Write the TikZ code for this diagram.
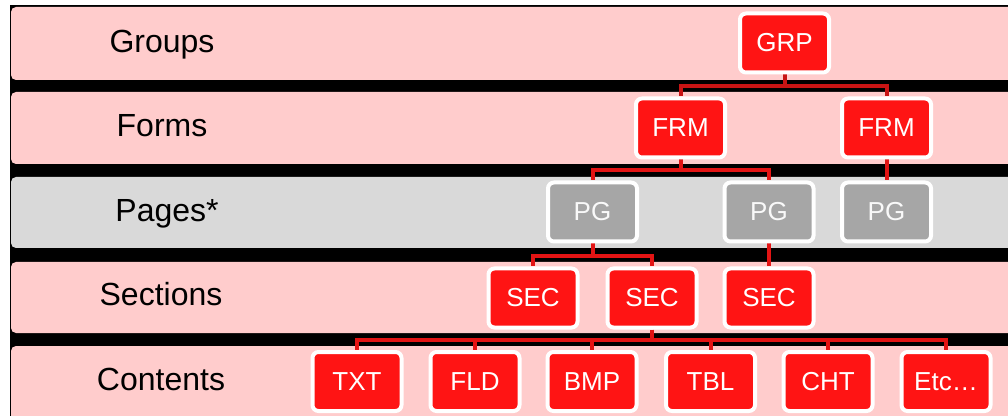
\documentclass[tikz,border=0pt]{standalone}
\usepackage{fontspec}
\setmainfont{Liberation Sans}
\definecolor{bandpink}{HTML}{FFCCCC}
\definecolor{bandgray}{HTML}{D9D9D9}
\definecolor{boxred}{HTML}{FF1414}
\definecolor{boxgray}{HTML}{A6A6A6}
\definecolor{linkred}{HTML}{E31414}
\definecolor{linkdark}{HTML}{C81414}
\pgfdeclarelayer{back}
\pgfdeclarelayer{mid}
\pgfsetlayers{back,mid,main}
\tikzset{
  band/.style={rounded corners=5pt},
  rowlabel/.style={font=\fontsize{32}{32}\selectfont, text=black, anchor=base},
  redbox/.style={draw=white, line width=4pt, fill=boxred, rounded corners=6pt,
    minimum width=89pt, minimum height=59pt, inner sep=0pt, text=white,
    font=\fontsize{26}{26}\selectfont},
  graybox/.style={redbox, fill=boxgray, text=white!95!gray},
  link/.style={draw=linkred, line width=4pt},
}
\begin{document}
\begin{tikzpicture}[x=1pt,y=1pt]
\useasboundingbox (0,0) rectangle (1008,415);
\clip (0,0) rectangle (1008,415);
\begin{pgfonlayer}{back}
\fill[black] (10,-5) rectangle (1020,410);
\fill[bandpink, band] (11,335) rectangle (1030,408);
\fill[bandpink, band] (11,251) rectangle (1030,323);
\fill[bandgray, band] (11,167) rectangle (1030,238);
\fill[bandpink, band] (11,82) rectangle (1030,153);
\fill[bandpink, band] (11,-20) rectangle (1030,69);
\end{pgfonlayer}
% row labels
\node[rowlabel] (lgroups) at (162,362) {Groups};
\node[rowlabel] (lforms) at (162,278) {Forms};
\node[rowlabel] (lpages) at (167,193) {Pages*};
\node[rowlabel] (lsections) at (161,109.5) {Sections};
\node[rowlabel] (lcontents) at (161,25) {Contents};
% boxes
\node[redbox] (grp) at (784.5,372) {GRP};
\node[redbox] (frm1) at (680.5,287) {FRM};
\node[redbox] (frm2) at (886.5,287) {FRM};
\node[graybox] (pg1) at (592.5,203) {PG};
\node[graybox] (pg2) at (769,203) {PG};
\node[graybox] (pg3) at (886.5,203) {PG};
\node[redbox] (sec1) at (533,117) {SEC};
\node[redbox] (sec2) at (652,117) {SEC};
\node[redbox] (sec3) at (769,117) {SEC};
\node[redbox] (txt) at (357,33.5) {TXT};
\node[redbox] (fld) at (475,33.5) {FLD};
\node[redbox] (bmp) at (592,33.5) {BMP};
\node[redbox] (tbl) at (710.5,33.5) {TBL};
\node[redbox] (cht) at (828,33.5) {CHT};
\node[redbox] (etc) at (946,33.5) {Etc\ldots};
% connectors
\begin{pgfonlayer}{mid}
\draw[link, draw=linkdark] (grp.south) -- ++(0,-12) -| (frm1.north);
\draw[link, draw=linkdark] (grp.south) -- ++(0,-12) -| (frm2.north);
\draw[link] (frm1.south) -- ++(0,-10.5) -| (pg1.north);
\draw[link] (frm1.south) -- ++(0,-10.5) -| (pg2.north);
\draw[link] (frm2.south) -- (pg3.north);
\draw[link] (pg1.south) -- ++(0,-12.5) -| (sec1.north);
\draw[link] (pg1.south) -- ++(0,-12.5) -| (sec2.north);
\draw[link] (pg2.south) -- (sec3.north);
\foreach \c in {txt,fld,bmp,tbl,cht,etc}{
  \draw[link] (sec2.south) -- ++(0,-10.5) -| (\c.north);
}
\end{pgfonlayer}
\end{tikzpicture}
\end{document}
